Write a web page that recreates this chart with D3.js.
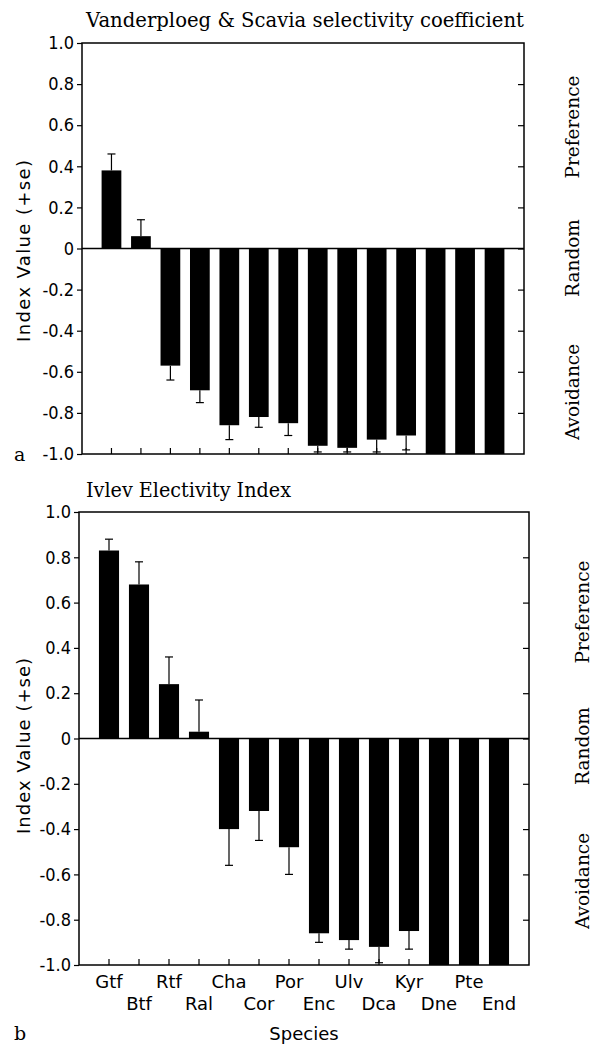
<!DOCTYPE html>
<html>
<head>
<meta charset="utf-8">
<script src="https://cdn.jsdelivr.net/npm/d3@7"></script>
<style>
  body { margin: 0; background: #fff; }
  svg { display: block; }
  .sans { font-family: "DejaVu Sans", sans-serif; }
  .serif { font-family: "DejaVu Serif", serif; }
</style>
</head>
<body>
<svg id="chart" width="594" height="1044"></svg>
<script>
// Data

const species = ["Gtf", "Btf", "Rtf", "Ral", "Cha", "Cor", "Por", "Enc", "Ulv", "Dca", "Kyr", "Dne", "Pte", "End"];

const vsValues = [0.38, 0.06, -0.57, -0.69, -0.86, -0.82, -0.85, -0.96, -0.97, -0.93, -0.91, -1.0, -1.0, -1.0];
const vsErrors = [0.08, 0.08, 0.07, 0.06, 0.07, 0.05, 0.06, 0.03, 0.02, 0.06, 0.07, 0, 0, 0];

const ivValues = [0.83, 0.68, 0.24, 0.03, -0.40, -0.32, -0.48, -0.86, -0.89, -0.92, -0.85, -1.0, -1.0, -1.0];
const ivErrors = [0.05, 0.10, 0.12, 0.14, 0.16, 0.13, 0.12, 0.04, 0.04, 0.07, 0.08, 0, 0, 0];

const yTicks = [1.0, 0.8, 0.6, 0.4, 0.2, 0, -0.2, -0.4, -0.6, -0.8, -1.0];
const sideLabels = ["Preference", "Random", "Avoidance"];

const svg = d3.select("#chart");

const fmt = d => d === 0 ? "0" : (d < 0 ? "-" : "") + Math.abs(d).toFixed(1);

function drawPanel(p) {
  const x = d3.scaleBand()
    .domain(species)
    .range([p.left, p.right])
    .paddingInner(0.33)
    .paddingOuter(0.665);
  const y = d3.scaleLinear().domain([-1, 1]).range([p.bottom, p.top]);

  const g = svg.append("g");

  // bars
  g.selectAll("rect.bar")
    .data(p.values)
    .enter().append("rect")
      .attr("class", "bar")
      .attr("x", (d, i) => x(species[i]))
      .attr("width", x.bandwidth())
      .attr("y", d => y(Math.max(0, d)))
      .attr("height", d => Math.abs(y(d) - y(0)))
      .attr("fill", "#000");

  // error bars (+se, away from zero)
  const cx = i => x(species[i]) + x.bandwidth() / 2;
  const errEnd = (d, i) => d + Math.sign(d) * p.errors[i];
  const err = g.selectAll("g.err")
    .data(p.values)
    .enter().append("g")
      .attr("class", "err")
      .filter((d, i) => p.errors[i] > 0);
  err.append("line")
    .attr("x1", (d, i) => cx(i)).attr("x2", (d, i) => cx(i))
    .attr("y1", d => y(d)).attr("y2", (d, i) => y(errEnd(d, i)))
    .attr("stroke", "#000").attr("stroke-width", 1.2);
  err.append("line")
    .attr("x1", (d, i) => cx(i) - 4).attr("x2", (d, i) => cx(i) + 4)
    .attr("y1", (d, i) => y(errEnd(d, i))).attr("y2", (d, i) => y(errEnd(d, i)))
    .attr("stroke", "#000").attr("stroke-width", 1.2);

  // left axis
  const ya = g.append("g")
    .attr("transform", `translate(${p.left},0)`)
    .call(d3.axisLeft(y).tickValues(yTicks).tickFormat(fmt).tickSize(5).tickPadding(3));
  ya.select(".domain").remove();
  ya.selectAll("text")
    .style("font-family", "'DejaVu Sans Condensed', 'DejaVu Sans', sans-serif")
    .style("font-size", "18px")
    .attr("fill", "#000");
  ya.selectAll("line").attr("stroke-width", 1.2);

  // right ticks inward
  const yr = g.append("g")
    .attr("transform", `translate(${p.right},0)`)
    .call(d3.axisLeft(y).tickValues(yTicks.slice(1, -1)).tickFormat("").tickSize(6));
  yr.select(".domain").remove();
  yr.selectAll("line").attr("stroke-width", 1.2);

  // bottom ticks inward
  const xa = g.append("g")
    .attr("transform", `translate(0,${p.bottom})`)
    .call(d3.axisTop(x).tickFormat("").tickSize(6));
  xa.select(".domain").remove();
  xa.selectAll("line").attr("stroke-width", 1.2);

  // zero line and frame
  g.append("line")
    .attr("x1", p.left).attr("x2", p.right)
    .attr("y1", y(0)).attr("y2", y(0))
    .attr("stroke", "#000").attr("stroke-width", 1.5);
  g.append("rect")
    .attr("x", p.left).attr("y", p.top)
    .attr("width", p.right - p.left).attr("height", p.bottom - p.top)
    .attr("fill", "none").attr("stroke", "#000").attr("stroke-width", 1.5);

  // title
  g.append("text")
    .attr("class", "serif")
    .attr("x", p.titleX).attr("y", p.titleY)
    .attr("text-anchor", p.titleAnchor)
    .attr("textLength", p.titleLen).attr("lengthAdjust", "spacingAndGlyphs")
    .style("font-size", p.titleSize + "px")
    .text(p.title);

  // y axis title
  g.append("text")
    .attr("class", "sans")
    .attr("transform", `translate(30,${p.yTitleY}) rotate(-90)`)
    .attr("text-anchor", "middle")
    .attr("textLength", p.yTitleLen).attr("lengthAdjust", "spacing")
    .style("font-size", "18px")
    .text("Index Value (+se)");

  // side labels
  g.selectAll("text.side")
    .data(sideLabels)
    .enter().append("text")
      .attr("class", "side serif")
      .attr("transform", (d, i) => `translate(${p.sideX},${p.sideY[i]}) rotate(-90)`)
      .attr("text-anchor", "middle")
      .style("font-size", "18.5px")
      .text(d => d);

  // panel letter
  g.append("text")
    .attr("class", "serif")
    .attr("x", 14).attr("y", p.letterY)
    .style("font-size", "19px")
    .text(p.letter);

  return { x, y, g };
}

drawPanel({
  left: 82, right: 524, top: 43, bottom: 454,
  values: vsValues, errors: vsErrors,
  title: "Vanderploeg & Scavia selectivity coefficient",
  titleX: 305, titleY: 27, titleAnchor: "middle", titleSize: 21, titleLen: 438,
  yTitleY: 251, yTitleLen: 182,
  sideX: 579, sideY: [127, 258, 392],
  letter: "a", letterY: 461
});

const b = drawPanel({
  left: 79, right: 529, top: 512, bottom: 965,
  values: ivValues, errors: ivErrors,
  title: "Ivlev Electivity Index",
  titleX: 86, titleY: 497, titleAnchor: "start", titleSize: 21, titleLen: 205,
  yTitleY: 746, yTitleLen: 176,
  sideX: 589, sideY: [612, 746, 881],
  letter: "b", letterY: 1040
});

// species labels, alternating rows
b.g.selectAll("text.cat")
  .data(species)
  .enter().append("text")
    .attr("class", "cat sans")
    .attr("x", d => b.x(d) + b.x.bandwidth() / 2)
    .attr("y", (d, i) => i % 2 === 0 ? 988 : 1010)
    .attr("text-anchor", "middle")
    .style("font-size", "18px")
    .text(d => d);

b.g.append("text")
  .attr("class", "sans")
  .attr("x", 304).attr("y", 1040)
  .attr("text-anchor", "middle")
  .style("font-size", "18px")
  .text("Species");
</script>
</body>
</html>
